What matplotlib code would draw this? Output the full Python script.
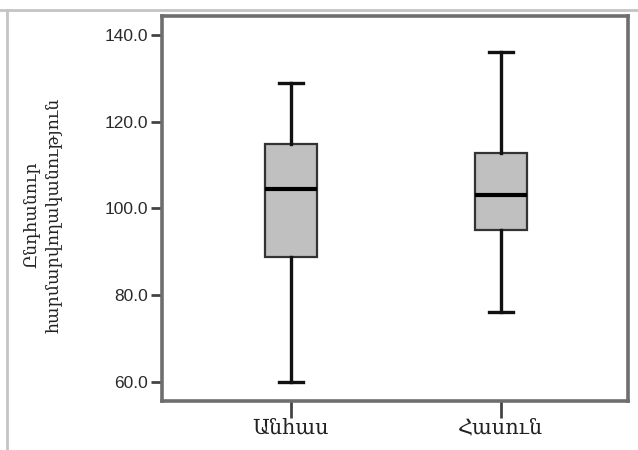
import matplotlib
matplotlib.use("Agg")
import matplotlib.pyplot as plt
from matplotlib.lines import Line2D

categories = ["Անհաս", "Հասուն"]
whisker_low = [60.0, 76.0]
q1 = [88.8, 95.0]
median = [104.5, 103.0]
q3 = [114.8, 112.8]
whisker_high = [129.0, 136.0]
y_ticks = [60.0, 80.0, 100.0, 120.0, 140.0]
y_label = "Ընդհանուր\nհարմարվողականություն"

fig = plt.figure(figsize=(6.38, 4.5), dpi=100)
ax = fig.add_axes([0.2534, 0.1089, 0.9843 - 0.2534, 0.9644 - 0.1089])

stats = []
for i, c in enumerate(categories):
    stats.append(dict(label=c, whislo=whisker_low[i], q1=q1[i], med=median[i],
                      q3=q3[i], whishi=whisker_high[i], fliers=[]))

ax.bxp(stats, positions=[1, 2], widths=0.248, patch_artist=True, showfliers=False,
       boxprops=dict(facecolor="#c0c0c0", edgecolor="#333333", linewidth=1.6),
       medianprops=dict(color="#000000", linewidth=3.0),
       whiskerprops=dict(color="#111111", linewidth=2.4),
       capprops=dict(color="#111111", linewidth=2.4),
       capwidths=0.115)

ax.set_xlim(0.386, 2.606)
ax.set_ylim(55.55, 144.4)
ax.set_yticks(y_ticks)
ax.set_yticklabels([f"{v:.1f}" for v in y_ticks], family="Liberation Sans",
                   fontsize=12.5, color="#2a2a2a")
ax.set_xticks([1, 2])
ax.set_xticklabels(categories, family=["DejaVu Serif", "DejaVu Sans"],
                   fontsize=15, color="#222222")
ax.tick_params(axis="y", direction="out", length=8, width=2, color="#444444", pad=2)
ax.tick_params(axis="x", direction="out", length=12, width=2, color="#444444", pad=1)

for s in ax.spines.values():
    s.set_color("#6e6e6e")
    s.set_linewidth(2.6)

fig.text(42 / 638, 1 - 215 / 450, y_label, rotation=90, ha="center", va="center",
         family=["DejaVu Serif", "DejaVu Sans"], fontsize=12.5, color="#222222",
         linespacing=1.35, multialignment="center")

# outer frame lines of the original picture
fig.add_artist(Line2D([0, 1], [1 - 10 / 450, 1 - 10 / 450], transform=fig.transFigure,
                      color="#c4c4c4", linewidth=2))
fig.add_artist(Line2D([7 / 638, 7 / 638], [0, 1 - 10 / 450], transform=fig.transFigure,
                      color="#c4c4c4", linewidth=2))

fig.savefig("out.png", dpi=100)
